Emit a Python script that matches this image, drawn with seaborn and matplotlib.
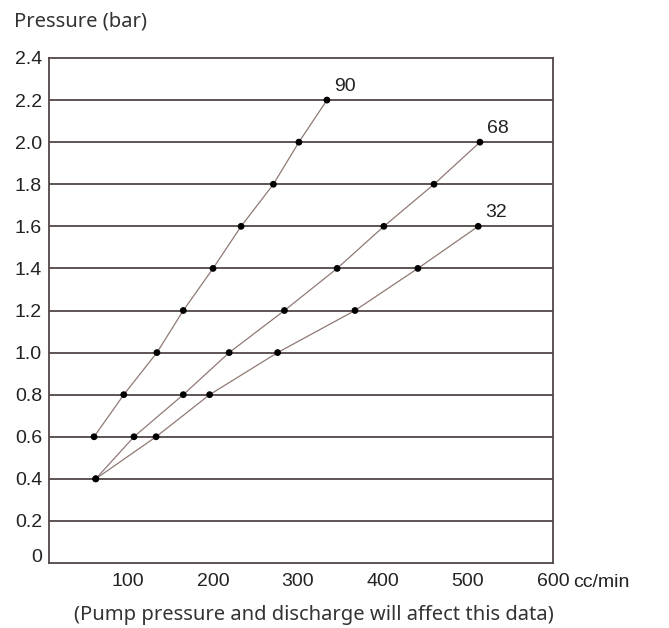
import numpy as np
import pandas as pd
import matplotlib
matplotlib.use('Agg')
import matplotlib.pyplot as plt
import matplotlib.transforms as mtransforms
import seaborn as sns

# flow (cc/min), pressure (bar) at each point
flow_90 = [60, 95, 134, 165, 200, 233, 271, 301, 334]
pres_90 = [0.6, 0.8, 1.0, 1.2, 1.4, 1.6, 1.8, 2.0, 2.2]
flow_68 = [62, 107, 165, 219, 284, 346, 401, 460, 514]
pres_68 = [0.4, 0.6, 0.8, 1.0, 1.2, 1.4, 1.6, 1.8, 2.0]
flow_32 = [62, 133, 196, 276, 367, 441, 512]
pres_32 = [0.4, 0.6, 0.8, 1.0, 1.2, 1.4, 1.6]
curve_names = ['90', '68', '32']

y_ticks = [0, 0.2, 0.4, 0.6, 0.8, 1.0, 1.2, 1.4, 1.6, 1.8, 2.0, 2.2, 2.4]
y_labels = ['0', '0.2', '0.4', '0.6', '0.8', '1.0', '1.2', '1.4', '1.6', '1.8', '2.0', '2.2', '2.4']
x_ticks = [100, 200, 300, 400, 500, 600]

df = pd.concat([
    pd.DataFrame({'flow': flow_90, 'pressure': pres_90, 'curve': '90'}),
    pd.DataFrame({'flow': flow_68, 'pressure': pres_68, 'curve': '68'}),
    pd.DataFrame({'flow': flow_32, 'pressure': pres_32, 'curve': '32'}),
])

sns.set_style('white')
plt.rcParams['font.family'] = ['Liberation Sans', 'DejaVu Sans']

fig = plt.figure(figsize=(6.69, 6.28), dpi=100)
# axes box: x 49..553 px, y 58..563 px
ax = fig.add_axes([49 / 669, 1 - 563 / 628, 504 / 669, 505 / 628])

grid_col = '#514645'
for y in y_ticks[1:-1]:
    ax.axhline(y, color=grid_col, lw=1.3, zorder=1)

sns.lineplot(data=df, x='flow', y='pressure', hue='curve', sort=False,
             palette={'90': '#8f7a74', '68': '#8f7a74', '32': '#8f7a74'},
             lw=0.9, legend=False, ax=ax, zorder=2)
sns.scatterplot(data=df, x='flow', y='pressure', color='black', s=24,
                edgecolor='none', ax=ax, zorder=3, legend=False)

# curve labels next to the last point of each curve
for name in curve_names:
    sub = df[df.curve == name]
    ax.annotate(name, (sub.flow.iloc[-1], sub.pressure.iloc[-1]),
                xytext=(5, 10), textcoords='offset points', fontsize=14,
                color='#222222', ha='left', va='center')

ax.set_xlim(7, 600)
ax.set_ylim(0, 2.4)
ax.set_yticks(y_ticks)
ax.set_yticklabels(y_labels)
ax.set_xticks(x_ticks)
ax.tick_params(length=0, labelsize=14, colors='#222222')
ax.tick_params(axis='y', pad=5)
ax.tick_params(axis='x', pad=7)
ax.set_xlabel('')
ax.set_ylabel('')
for s in ax.spines.values():
    s.set_color(grid_col)
    s.set_linewidth(1.3)

# the "0" label sits a little above the bottom line in the original
lab0 = ax.get_yticklabels()[0]
lab0.set_transform(lab0.get_transform() +
                   mtransforms.ScaledTranslation(0, 7 / 100, fig.dpi_scale_trans))

ax.text(1.04, -0.038, 'cc/min', transform=ax.transAxes, fontsize=14,
        color='#222222', va='center', ha='left')
fig.text(14 / 669, 0.965, 'Pressure (bar)', fontsize=14.5, family='Noto Sans',
         color='#333333', va='center', ha='left')
fig.text(0.469, 1 - 615 / 628, '(Pump pressure and discharge will affect this data)',
         fontsize=14.5, family='Noto Sans', color='#333333', va='center', ha='center')

fig.savefig('out.png', dpi=100, facecolor='white')
